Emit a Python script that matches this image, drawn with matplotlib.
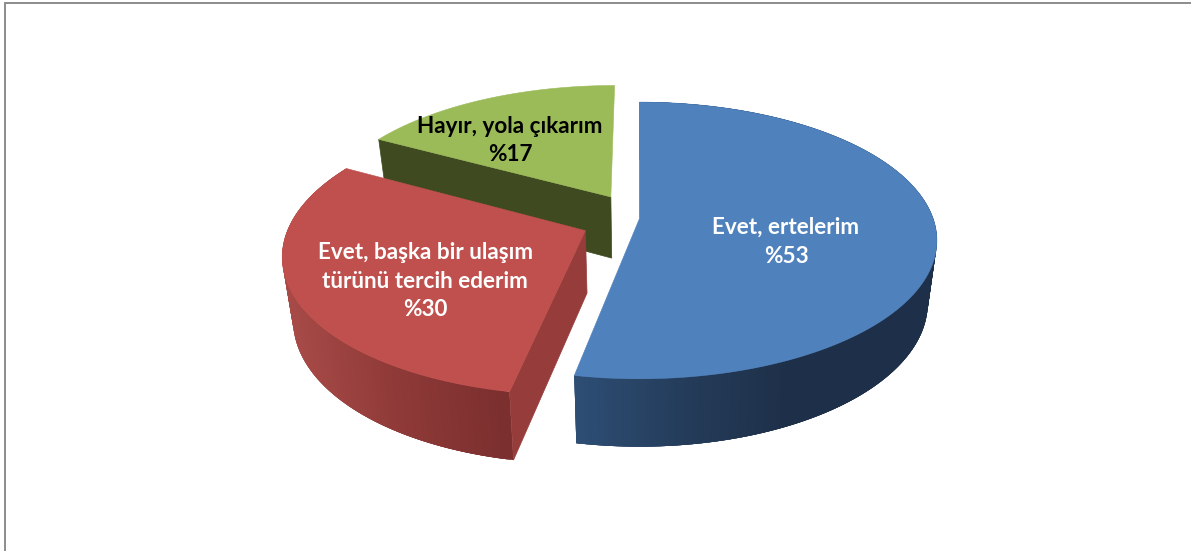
import numpy as np
import matplotlib
matplotlib.use("Agg")
import matplotlib.pyplot as plt
from matplotlib.colors import to_rgb
from matplotlib.collections import PolyCollection
from matplotlib.patches import Polygon

# --- data
categories = ["Evet, ertelerim", "Evet, başka bir ulaşım\ntürünü tercih ederim", "Hayır, yola çıkarım"]
values = [53, 30, 17]
value_labels = ["%53", "%30", "%17"]

# --- styles
top_colors = ["#4f81bd", "#c0504d", "#9bbb59"]
cut_colors = [None, "#963c3a", "#3f4a20"]
side_stops = [
    ([576, 700, 800], ["#2f5078", "#243c5a", "#1e3049"]),
    ([286, 400, 512], ["#a84b48", "#8f3a38", "#7a2f2e"]),
    None,  # the green wall is on the far side and never shows
]
text_colors = ["white", "white", "black"]
explode = [0.0, 0.2, 0.195]
label_pos = [(786, 242), (425, 281), (510, 140.5)]

# --- projection of the pie (page pixels)
CX, K = 639.3, 0.155
TOP = dict(y0=219, a=135, b=294)
BOT = dict(y0=281, a=140, b=285)


def project(u, v, plane):
    den = 1 + K * v
    return np.column_stack([CX + plane["b"] * u / den, plane["y0"] - plane["a"] * v / den])


fig = plt.figure(figsize=(11.91, 5.51), dpi=100, facecolor="white")
ax = fig.add_axes([0, 0, 1, 1])
ax.set_xlim(0, 1191)
ax.set_ylim(551, 0)
ax.axis("off")

# chart frame: only left and top edges are visible
ax.plot([4.5, 4.5, 1191], [551, 2.5, 2.5], color="#8c8c8c", lw=1.4, solid_joinstyle="miter", zorder=0)

fracs = np.array(values) / sum(values)
ends = np.cumsum(fracs) * 2 * np.pi
starts = ends - fracs * 2 * np.pi

# far to near: green, red, blue
for z, i in enumerate([2, 1, 0]):
    t0, t1 = starts[i], ends[i]
    mid = (t0 + t1) / 2
    du, dv = explode[i] * np.sin(mid), explode[i] * np.cos(mid)
    th = np.linspace(t0, t1, 241)
    u, v = np.sin(th) + du, np.cos(th) + dv
    top_arc = project(u, v, TOP)
    bot_arc = project(u, v, BOT)
    apex_t = project(np.array([du]), np.array([dv]), TOP)[0]
    apex_b = project(np.array([du]), np.array([dv]), BOT)[0]
    base = 10 * (z + 1)

    # outer wall: overlapping quads painted in order, so no seams show
    if side_stops[i]:
        xs, cols = side_stops[i]
        rgb = np.array([to_rgb(c) for c in cols])
        quads, fc = [], []
        for j in range(len(th) - 1):
            k2 = min(j + 4, len(th) - 1)
            quads.append([top_arc[j], top_arc[k2], bot_arc[k2], bot_arc[j]])
            xm = (top_arc[j, 0] + top_arc[j + 1, 0]) / 2
            fc.append([np.interp(xm, xs, rgb[:, c]) for c in range(3)])
        ax.add_collection(PolyCollection(quads[::-1], facecolors=fc[::-1], edgecolors="none", zorder=base))

    # visible cut face on the slice's first radius
    if cut_colors[i]:
        ta, ba = top_arc[0], bot_arc[0]
        ax.add_patch(Polygon([ta, apex_t, apex_b, ba], closed=True, fc=cut_colors[i],
                             ec=cut_colors[i], lw=0.5, zorder=base + 1))

    # top face
    ax.add_patch(Polygon(np.vstack([apex_t, top_arc]), closed=True, fc=top_colors[i],
                         ec=top_colors[i], lw=0.4, zorder=base + 2))

for i in range(3):
    ax.text(label_pos[i][0], label_pos[i][1], categories[i] + "\n" + value_labels[i],
            ha="center", va="center", ma="center", color=text_colors[i],
            family="Lato", weight="bold", fontsize=16.2, linespacing=1.47, zorder=100)

fig.savefig("out.png", dpi=100, facecolor="white")
